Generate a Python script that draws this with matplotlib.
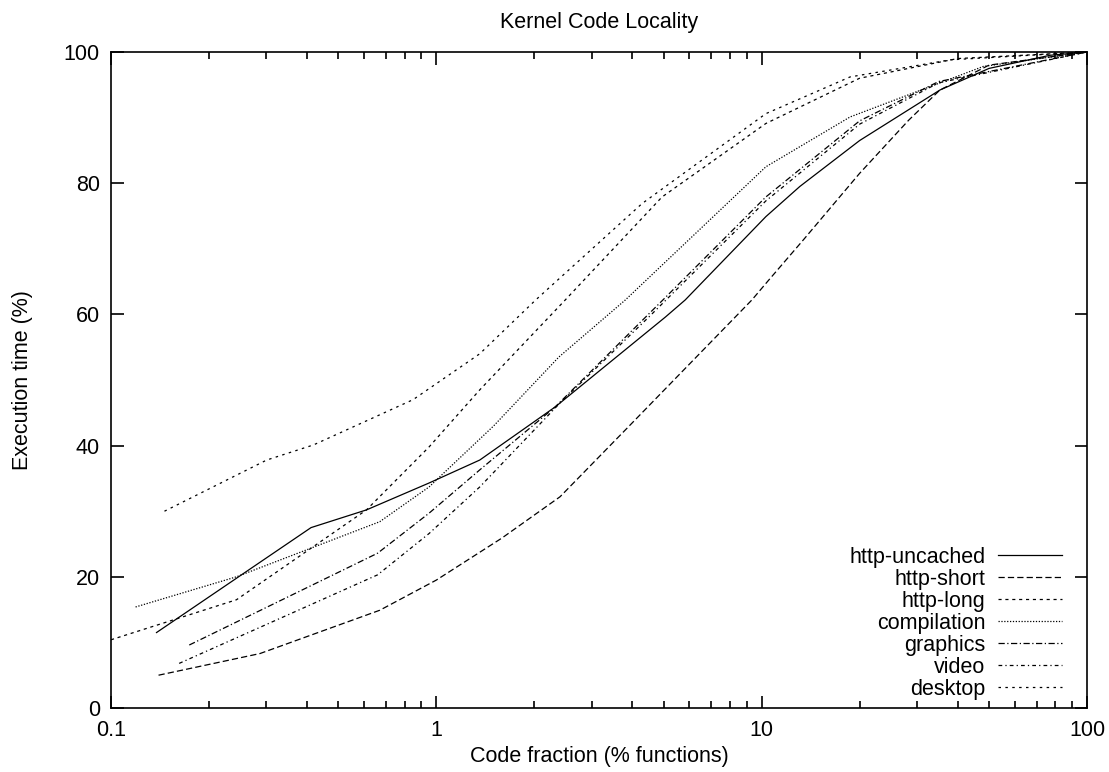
import matplotlib
matplotlib.use("Agg")
from matplotlib import pyplot as plt
from matplotlib.ticker import LogLocator, NullFormatter, FixedLocator

plt.rcParams['font.family'] = ['Liberation Sans', 'DejaVu Sans']

# code fraction (% functions) -> execution time (%)
uncached_x = [0.138, 0.412, 0.61, 0.95, 1.36, 2.32, 5.06, 5.82, 10.3, 13.1, 20, 35.3, 50, 77, 100]
uncached_y = [11.5, 27.5, 30.2, 34.3, 37.8, 45.9, 59.6, 62.2, 74.9, 79.5, 86.5, 94.2, 97.5, 99.5, 100]

short_x = [0.14, 0.287, 0.67, 1.0, 1.59, 2.4, 3.9, 5.0, 9.33, 10.5, 13.4, 20, 28.3, 35.3, 50, 100]
short_y = [5.0, 8.3, 14.9, 19.5, 25.9, 32.2, 42.9, 48.4, 62.2, 65.2, 71.3, 81.5, 89.6, 94.2, 98, 100]

long_x = [0.1, 0.243, 0.61, 0.95, 1.36, 2.49, 4.94, 10.3, 20, 40, 100]
long_y = [10.4, 16.5, 30.2, 39.8, 48.5, 62.2, 77.9, 89.1, 96, 99, 100]

comp_x = [0.119, 0.243, 0.67, 0.95, 1.5, 2.38, 3.81, 10.3, 18.7, 48, 100]
comp_y = [15.4, 20.0, 28.4, 33.7, 43.0, 53.5, 62.2, 82.5, 90.1, 97.8, 100]

graphics_x = [0.174, 0.66, 0.95, 1.36, 2.32, 4.4, 4.97, 10.3, 20, 35, 100]
graphics_y = [9.6, 23.6, 29.7, 36.3, 45.9, 59.6, 62.2, 77.9, 89.5, 95.5, 100]

video_x = [0.162, 0.66, 0.95, 1.36, 2.4, 4.5, 10.3, 20, 35, 100]
video_y = [6.8, 20.3, 26.6, 33.7, 46.5, 59.6, 77.3, 89, 95.3, 100]

desktop_x = [0.146, 0.301, 0.419, 0.848, 1.36, 2.02, 4.29, 10.3, 18.7, 37.9, 100]
desktop_y = [30, 37.8, 40.1, 47, 54, 62.2, 76.9, 90.6, 96.2, 98.8, 100]

FS = 15.5

fig = plt.figure(figsize=(11.09, 7.72), dpi=100)
ax = fig.add_axes([111 / 1109, 1 - 708 / 772, 976 / 1109, 656 / 772])

lw = 0.9
ax.plot(uncached_x, uncached_y, color='k', lw=lw, label='http-uncached')
ax.plot(short_x, short_y, color='k', lw=lw, dashes=(5, 2.5), label='http-short')
ax.plot(long_x, long_y, color='k', lw=lw, dashes=(2.5, 3), label='http-long')
ax.plot(comp_x, comp_y, color='k', lw=lw, dashes=(1, 1.3), label='compilation')
ax.plot(graphics_x, graphics_y, color='k', lw=lw, dashes=(5, 2, 1, 2), label='graphics')
ax.plot(video_x, video_y, color='k', lw=lw, dashes=(3, 2.5, 1, 2.5), label='video')
ax.plot(desktop_x, desktop_y, color='k', lw=lw, dashes=(2, 3.5), label='desktop')

ax.set_xscale('log')
ax.set_xlim(0.1, 100)
ax.set_ylim(0, 100)
ax.yaxis.set_major_locator(FixedLocator([0, 20, 40, 60, 80, 100]))
ax.xaxis.set_major_locator(FixedLocator([0.1, 1, 10, 100]))
ax.xaxis.set_minor_locator(LogLocator(base=10, subs=range(2, 10)))
ax.xaxis.set_minor_formatter(NullFormatter())
ax.set_xticklabels(['0.1', '1', '10', '100'])

ax.tick_params(which='both', direction='in', top=True, right=True, labelsize=FS, width=1.2)
ax.tick_params(which='major', length=9)
ax.tick_params(axis='x', which='major', pad=9)
ax.tick_params(axis='y', which='major', pad=8)
ax.tick_params(which='minor', length=5)
for s in ax.spines.values():
    s.set_linewidth(1.2)

ax.set_title('Kernel Code Locality', fontsize=FS, pad=17)
ax.set_xlabel('Code fraction (% functions)', fontsize=FS, labelpad=3)
ax.set_ylabel('Execution time (%)', fontsize=FS, labelpad=22)

ax.legend(loc='lower right', frameon=False, markerfirst=False, fontsize=FS,
          handlelength=2.95, handletextpad=0.6, labelspacing=0.05,
          borderpad=0, borderaxespad=0,
          bbox_to_anchor=(1062 / 1109, 1 - 700 / 772),
          bbox_transform=fig.transFigure)

fig.savefig('out.png', dpi=100)
